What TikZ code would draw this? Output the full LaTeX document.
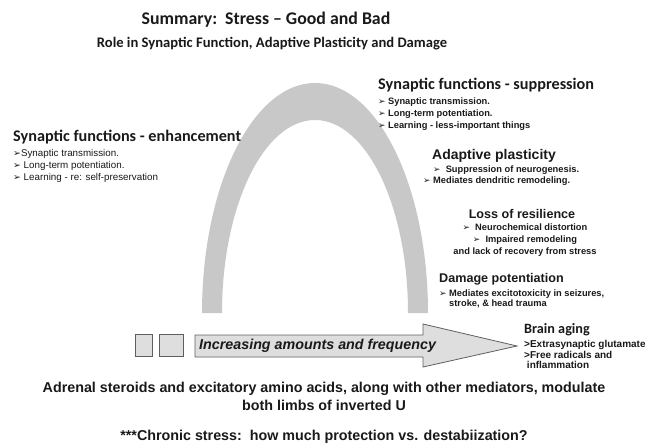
\documentclass[tikz,border=0pt]{standalone}
\usepackage{fontspec}
\setmainfont{Liberation Sans}
\newfontfamily\calibri{Carlito}
\newfontfamily\dingfont{DejaVu Sans}
\usetikzlibrary{positioning}

\newcommand\bul{{\dingfont\scalebox{0.95}{➢}}}

\definecolor{archgray}{RGB}{200,200,200}
\definecolor{boxgray}{RGB}{222,222,222}
\definecolor{edgegray}{RGB}{95,95,95}

\tikzset{
  every node/.style={inner sep=0pt, text=black!90},
  titletxt/.style={font=\calibri\bfseries\fontsize{17.8}{20}\selectfont},
  subtxt/.style={font=\calibri\bfseries\fontsize{14.6}{16}\selectfont},
  headtxt/.style={font=\calibri\bfseries\fontsize{16.2}{18}\selectfont},
  arialhead/.style={font=\bfseries\fontsize{12.6}{14}\selectfont},
  plainlist/.style={font=\fontsize{9.8}{11.8}\selectfont, align=left},
  boldlist/.style={font=\bfseries\fontsize{9.3}{12}\selectfont, align=left},
  notetxt/.style={font=\bfseries\fontsize{14.3}{18}\selectfont, align=center},
  sqbox/.style={draw=edgegray, fill=boxgray, line width=0.8pt, minimum height=22pt}
}

\begin{document}
\begin{tikzpicture}[x=1pt, y=-1pt]
\useasboundingbox (0,0) rectangle (645,444);

% titles
\node[titletxt] (title) at (266,20) {Summary:\ \ Stress – Good and Bad};
\node[subtxt] (subtitle) at (272,44) {Role in Synaptic Function, Adaptive Plasticity and Damage};

% inverted U
\fill[archgray] (202,313) arc[start angle=180, end angle=360, x radius=113, y radius=230]
  -- (408,313) arc[start angle=0, end angle=-180, x radius=93, y radius=193] -- cycle;

% left limb
\node[headtxt, anchor=west] (enh) at (13,137) {Synaptic functions - enhancement};
\node[plainlist, below=5pt of enh.south west, anchor=north west] (enhlist)
  {\bul Synaptic transmission.\\ \bul\ Long-term potentiation.\\ \bul\ Learning - re: self-preservation};

% right limb
\node[headtxt, anchor=west] (supp) at (378,85) {Synaptic functions - suppression};
\node[boldlist, below=5pt of supp.south west, anchor=north west] (supplist)
  {\bul\ Synaptic transmission.\\ \bul\ Long-term potentiation.\\ \bul\ Learning - less-important things};

\node[arialhead, font=\bfseries\fontsize{14}{16}\selectfont] (adapt) at (494,156) {Adaptive plasticity};
\node[boldlist, anchor=west] (adapt1) at (433,170) {\bul\ \ Suppression of neurogenesis.};
\node[boldlist, anchor=west] (adapt2) at (423,181) {\bul\ Mediates dendritic remodeling.};

\node[arialhead] (loss) at (522,214) {Loss of resilience};
\node[boldlist, align=center] (losslist) at (525,240)
  {\bul\ \ Neurochemical distortion\\ \bul\ \ Impaired remodeling\\ and lack of recovery from stress};

\node[arialhead, anchor=west] (damage) at (439,279) {Damage potentiation};
\node[boldlist, font=\bfseries\fontsize{9.3}{10.5}\selectfont, below=4pt of damage.south west, anchor=north west] (damlist)
  {\bul\ Mediates excitotoxicity in seizures,\\ \phantom{\bul\ }stroke, \& head trauma};

% dose axis
\node[sqbox, minimum width=17pt] (box1) at (143.5,345) {};
\node[sqbox, minimum width=24pt, right=7pt of box1] (box2) {};
\draw[edgegray, fill=boxgray, line width=0.8pt]
  (195,335) -- (423,335) -- (423,324) -- (517,346) -- (423,367) -- (423,357) -- (195,357) -- cycle;
\node[font=\bfseries\itshape\fontsize{14.3}{16}\selectfont, anchor=west] (dose) at (199,346)
  {Increasing amounts and frequency};

\node[font=\calibri\bfseries\fontsize{14.2}{16}\selectfont, anchor=west] (aging) at (524,330) {Brain aging};
\node[boldlist, font=\bfseries\fontsize{10}{10.5}\selectfont, below=4pt of aging.south west, anchor=north west] (aginglist)
  {>Extrasynaptic glutamate\\ >Free radicals and\\ \ inflammation};

% notes
\node[notetxt] (mediators) at (324,396)
  {Adrenal steroids and excitatory amino acids, along with other mediators, modulate\\ both limbs of inverted U};
\node[notetxt] (chronic) at (324,437) {***Chronic stress:\ \ how much protection vs. destabiization?};
\end{tikzpicture}
\end{document}
